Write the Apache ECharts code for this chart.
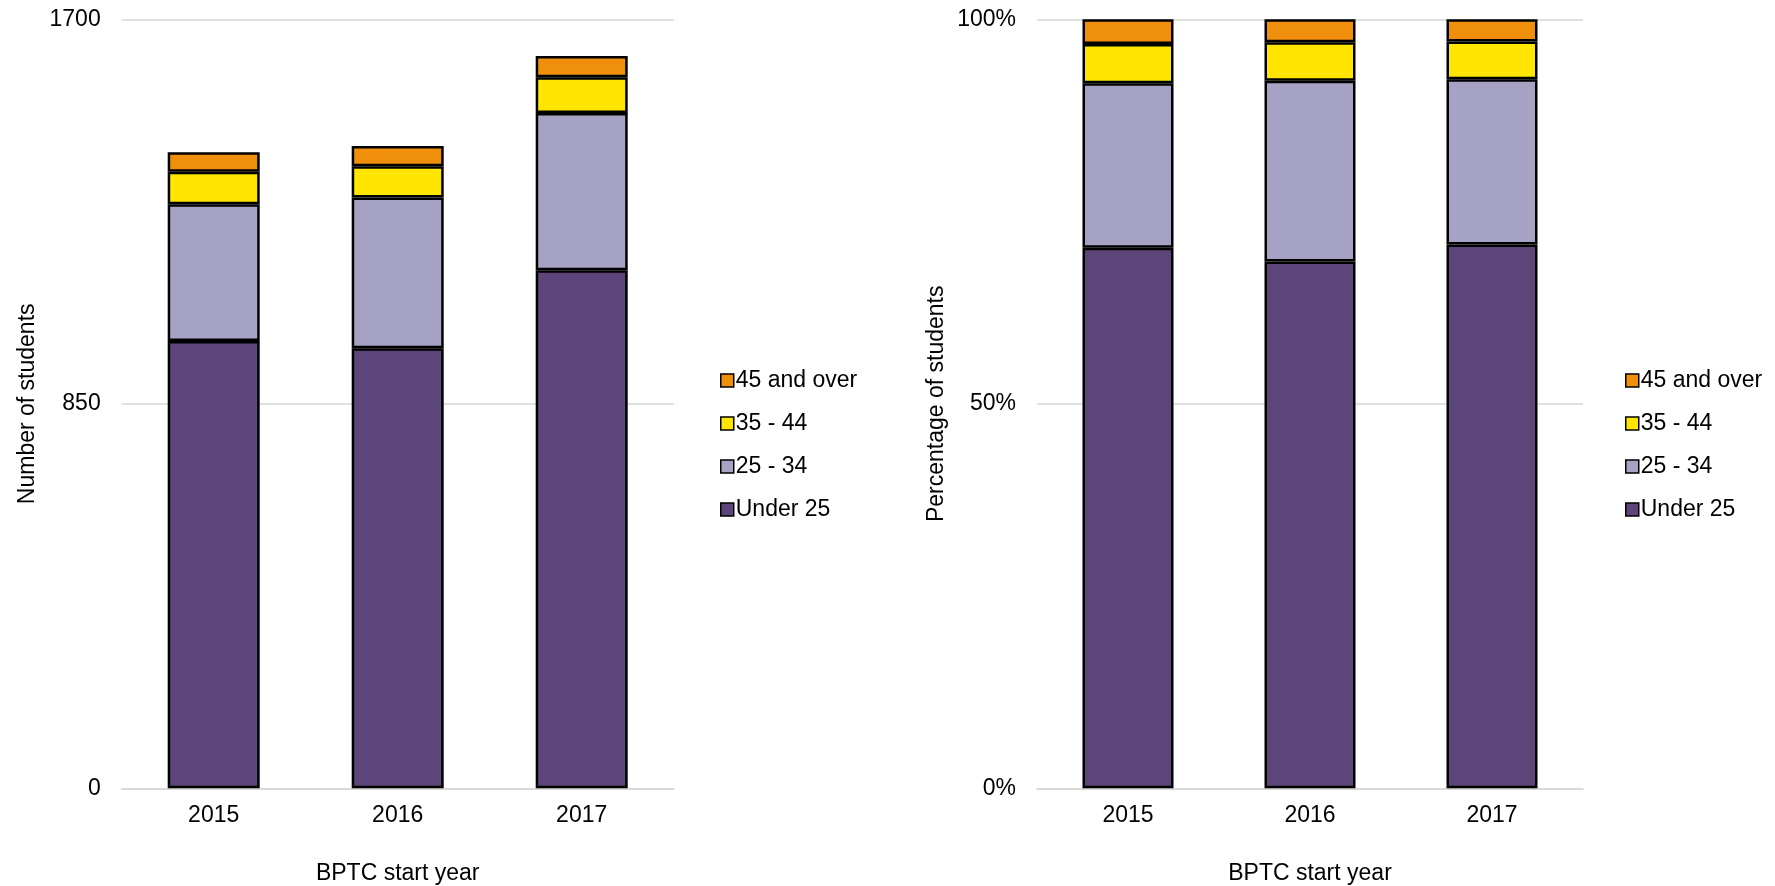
<!DOCTYPE html>
<html>
<head>
<meta charset="utf-8">
<script src="https://cdn.jsdelivr.net/npm/echarts@6/dist/echarts.min.js"></script>
<style>
html,body{margin:0;padding:0;background:#fff;}
#chart{width:1775px;height:886px;}
</style>
</head>
<body>
<div id="chart"></div>
<script>
const years = ['2015', '2016', '2017'];
const seriesNames = ['Under 25', '25 - 34', '35 - 44', '45 and over'];
// Number of students
const under25 = [989, 973, 1145];
const age25to34 = [302, 333, 348];
const age35to44 = [72, 69, 79];
const age45plus = [43, 45, 47];
// Percentage of students
const pctUnder25 = [70.3, 68.5, 70.7];
const pct25to34 = [21.4, 23.5, 21.5];
const pct35to44 = [5.1, 5.0, 4.9];
const pct45plus = [3.2, 3.0, 2.9];
const countTicks = [0, 850, 1700];
const pctTicks = [0, 50, 100];

const colors = ['#5C4579', '#A6A2C4', '#FFE500', '#EF8F0B'];
const FONT = 'Liberation Sans, Arial, sans-serif';
const TXT = '#000000';
const FS = 23;

const countData = [under25, age25to34, age35to44, age45plus];
const pctData = [pctUnder25, pct25to34, pct35to44, pct45plus];

function xAxisFor(gridIndex) {
  return {
    type: 'category', gridIndex: gridIndex, data: years,
    name: 'BPTC start year', nameLocation: 'middle', nameGap: 74,
    nameTextStyle: { fontFamily: FONT, fontSize: FS, color: TXT },
    axisLine: { show: true, lineStyle: { color: '#D6D6D6', width: 1.5 } },
    axisTick: { show: false },
    axisLabel: { fontFamily: FONT, fontSize: FS, color: TXT, margin: 16 }
  };
}
function yAxisFor(gridIndex, name, ticks, gap, suffix) {
  return {
    type: 'value', gridIndex: gridIndex,
    min: ticks[0], max: ticks[ticks.length - 1], interval: ticks[1] - ticks[0],
    name: name, nameLocation: 'middle', nameGap: gap,
    nameTextStyle: { fontFamily: FONT, fontSize: FS, color: TXT },
    axisLine: { show: false }, axisTick: { show: false },
    splitLine: { show: true, lineStyle: { color: '#D6D6D6', width: 1.5 } },
    axisLabel: { fontFamily: FONT, fontSize: FS, color: TXT, margin: 21,
      formatter: function (v) { return String(v) + suffix; } }
  };
}

const series = [];
seriesNames.forEach(function (nm, i) {
  series.push({
    name: nm, type: 'bar', stack: 'count', xAxisIndex: 0, yAxisIndex: 0,
    data: countData[i], barWidth: '50%',
    itemStyle: { color: colors[i], borderColor: '#000', borderWidth: 2.5 },
    emphasis: { disabled: true }
  });
});
seriesNames.forEach(function (nm, i) {
  series.push({
    name: nm, type: 'bar', stack: 'pct', xAxisIndex: 1, yAxisIndex: 1,
    data: pctData[i], barWidth: '50%',
    itemStyle: { color: colors[i], borderColor: '#000', borderWidth: 2.5 },
    emphasis: { disabled: true }
  });
});

const legendBase = {
  orient: 'vertical', top: 364,
  data: seriesNames.slice().reverse(),
  itemWidth: 13, itemHeight: 13, itemGap: 20,
  icon: 'rect',
  itemStyle: { borderColor: '#000', borderWidth: 1.5 },
  textStyle: { fontFamily: FONT, fontSize: FS, color: TXT, lineHeight: 23, padding: [0, 0, 0, -3] },
  selectedMode: false
};

const chart = echarts.init(document.getElementById('chart'), null, { renderer: 'canvas' });
chart.setOption({
  animation: false,
  backgroundColor: '#ffffff',
  grid: [
    { left: 121.7, top: 19.3, width: 552, height: 769, outerBoundsMode: 'none', containLabel: false },
    { left: 1037, top: 19.3, width: 546, height: 769, outerBoundsMode: 'none', containLabel: false }
  ],
  xAxis: [xAxisFor(0), xAxisFor(1)],
  yAxis: [
    yAxisFor(0, 'Number of students', countTicks, 83, ''),
    yAxisFor(1, 'Percentage of students', pctTicks, 89, '%')
  ],
  legend: [
    Object.assign({}, legendBase, { left: 715 }),
    Object.assign({}, legendBase, { left: 1620 })
  ],
  series: series
});
</script>
</body>
</html>
